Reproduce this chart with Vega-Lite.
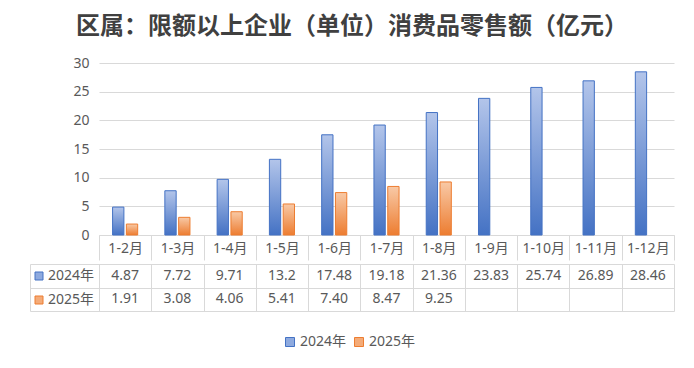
{
  "$schema": "https://vega.github.io/schema/vega-lite/v6.json",
  "background": "white",
  "padding": {"left": 29, "top": 15, "right": 5, "bottom": 5},
  "title": {
    "text": "区属：限额以上企业（单位）消费品零售额（亿元）",
    "font": "Noto Sans CJK SC",
    "fontSize": 24,
    "fontWeight": "bold",
    "color": "#404040",
    "anchor": "middle",
    "offset": 17
  },
  "config": {
    "view": {"stroke": null},
    "font": "'Noto Sans', 'Noto Sans CJK SC'",
    "axis": {"labelFont": "'Noto Sans', 'Noto Sans CJK SC'"},
    "legend": {"labelFont": "'Noto Sans', 'Noto Sans CJK SC'"}
  },
  "datasets": {
    "retail": [
      {"period": "1-2月", "series": "2024年", "value": 4.87, "label": "4.87"},
      {"period": "1-3月", "series": "2024年", "value": 7.72, "label": "7.72"},
      {"period": "1-4月", "series": "2024年", "value": 9.71, "label": "9.71"},
      {"period": "1-5月", "series": "2024年", "value": 13.2, "label": "13.2"},
      {"period": "1-6月", "series": "2024年", "value": 17.48, "label": "17.48"},
      {"period": "1-7月", "series": "2024年", "value": 19.18, "label": "19.18"},
      {"period": "1-8月", "series": "2024年", "value": 21.36, "label": "21.36"},
      {"period": "1-9月", "series": "2024年", "value": 23.83, "label": "23.83"},
      {"period": "1-10月", "series": "2024年", "value": 25.74, "label": "25.74"},
      {"period": "1-11月", "series": "2024年", "value": 26.89, "label": "26.89"},
      {"period": "1-12月", "series": "2024年", "value": 28.46, "label": "28.46"},
      {"period": "1-2月", "series": "2025年", "value": 1.91, "label": "1.91"},
      {"period": "1-3月", "series": "2025年", "value": 3.08, "label": "3.08"},
      {"period": "1-4月", "series": "2025年", "value": 4.06, "label": "4.06"},
      {"period": "1-5月", "series": "2025年", "value": 5.41, "label": "5.41"},
      {"period": "1-6月", "series": "2025年", "value": 7.40, "label": "7.40"},
      {"period": "1-7月", "series": "2025年", "value": 8.47, "label": "8.47"},
      {"period": "1-8月", "series": "2025年", "value": 9.25, "label": "9.25"}
    ]
  },
  "spacing": 0,
  "resolve": {
    "scale": {"x": "independent", "y": "independent", "color": "independent", "fill": "independent"},
    "legend": {"color": "independent", "fill": "independent"}
  },
  "vconcat": [
    {
      "width": 575,
      "height": 172,
      "data": {"name": "retail"},
      "encoding": {
        "x": {
          "field": "period",
          "type": "nominal",
          "scale": {"domain": ["1-2月","1-3月","1-4月","1-5月","1-6月","1-7月","1-8月","1-9月","1-10月","1-11月","1-12月"], "paddingInner": 0, "paddingOuter": 0},
          "axis": {
            "title": null, "orient": "bottom", "grid": false,
            "domain": true, "domainColor": "#d9d9d9",
            "ticks": true, "tickBand": "extent", "tickSize": 25, "tickColor": "#d9d9d9",
            "labelAngle": 0, "labelPadding": -12, "labelBaseline": "middle",
            "labelFontSize": 14, "labelColor": "#595959"
          }
        },
        "xOffset": {
          "field": "series",
          "type": "nominal",
          "scale": {"domain": ["2024年","2025年"], "paddingInner": 0.18, "paddingOuter": 0.985}
        },
        "y": {
          "field": "value",
          "type": "quantitative",
          "scale": {"domain": [0, 30], "nice": false},
          "axis": {
            "title": null, "values": [0,5,10,15,20,25,30],
            "domain": false, "ticks": false, "tickSize": 0, "labelPadding": 10,
            "labelFontSize": 14, "labelColor": "#595959", "gridColor": "#d9d9d9"
          }
        }
      },
      "layer": [
        {
          "transform": [{"filter": "datum.series === '2024年'"}],
          "mark": {
            "type": "bar",
            "fill": {"gradient": "linear", "x1": 0, "y1": 0, "x2": 0, "y2": 1, "stops": [{"offset": 0, "color": "#b3c5ea"}, {"offset": 1, "color": "#4472c4"}]},
            "stroke": "#4472c4",
            "strokeWidth": 1
          }
        },
        {
          "transform": [{"filter": "datum.series === '2025年'"}],
          "mark": {
            "type": "bar",
            "fill": {"gradient": "linear", "x1": 0, "y1": 0, "x2": 0, "y2": 1, "stops": [{"offset": 0, "color": "#f8c9a6"}, {"offset": 1, "color": "#ed7d31"}]},
            "stroke": "#ed7d31",
            "strokeWidth": 1
          }
        }
      ]
    },
    {
      "width": 575,
      "height": 47,
      "data": {"name": "retail"},
      "resolve": {"scale": {"color": "independent", "fill": "independent"}, "legend": {"color": "independent", "fill": "independent"}},
      "encoding": {
        "x": {
          "field": "period",
          "type": "nominal",
          "scale": {"domain": ["1-2月","1-3月","1-4月","1-5月","1-6月","1-7月","1-8月","1-9月","1-10月","1-11月","1-12月"], "paddingInner": 0, "paddingOuter": 0},
          "axis": {
            "title": null, "orient": "bottom", "labels": false, "ticks": false, "domain": false,
            "grid": true, "tickBand": "extent", "gridColor": "#d9d9d9"
          }
        },
        "y": {
          "field": "series",
          "type": "nominal",
          "scale": {"domain": ["2024年","2025年"], "paddingInner": 0, "paddingOuter": 0},
          "axis": {
            "title": null, "orient": "left", "offset": 69, "labels": false, "grid": false,
            "domain": true, "domainColor": "#d9d9d9",
            "ticks": true, "tickBand": "extent", "tickSize": -644, "tickColor": "#d9d9d9"
          }
        }
      },
      "layer": [
        {
          "mark": {"type": "text", "fontSize": 14, "color": "#595959"},
          "encoding": {"text": {"field": "label"}}
        },
        {
          "mark": {"type": "square", "opacity": 0},
          "encoding": {
            "x": {"value": 0},
            "y": {"value": 0},
            "color": {
              "field": "series", "type": "nominal",
              "scale": {"range": ["#8eaadf", "#f4ab78"]},
              "legend": {
                "orient": "none", "legendX": 184, "legendY": 71, "direction": "horizontal",
                "title": null, "symbolType": "square", "symbolSize": 81,
                "labelFontSize": 14, "labelColor": "#595959", "labelOffset": 3, "columnPadding": 5,
                "symbolOpacity": 1, "symbolStrokeWidth": 1,
                "symbolStrokeColor": {"expr": "datum.value === '2024年' ? '#4472c4' : '#ed7d31'"}
              }
            }
          }
        },
        {
          "mark": {"type": "square", "opacity": 0},
          "encoding": {
            "x": {"value": 0},
            "y": {"value": 0},
            "fill": {
              "field": "series", "type": "nominal",
              "scale": {"domain": ["2024年","2025年"], "range": ["#8eaadf", "#f4ab78"]},
              "legend": {
                "orient": "none", "legendX": -67, "legendY": 5, "direction": "vertical",
                "title": null, "symbolType": "square", "symbolSize": 64,
                "labelFontSize": 14, "labelColor": "#595959", "labelOffset": 2, "rowPadding": 10,
                "symbolOpacity": 1, "symbolStrokeWidth": 1,
                "symbolStrokeColor": {"expr": "datum.value === '2024年' ? '#4472c4' : '#ed7d31'"}
              }
            }
          }
        }
      ]
    }
  ]
}
